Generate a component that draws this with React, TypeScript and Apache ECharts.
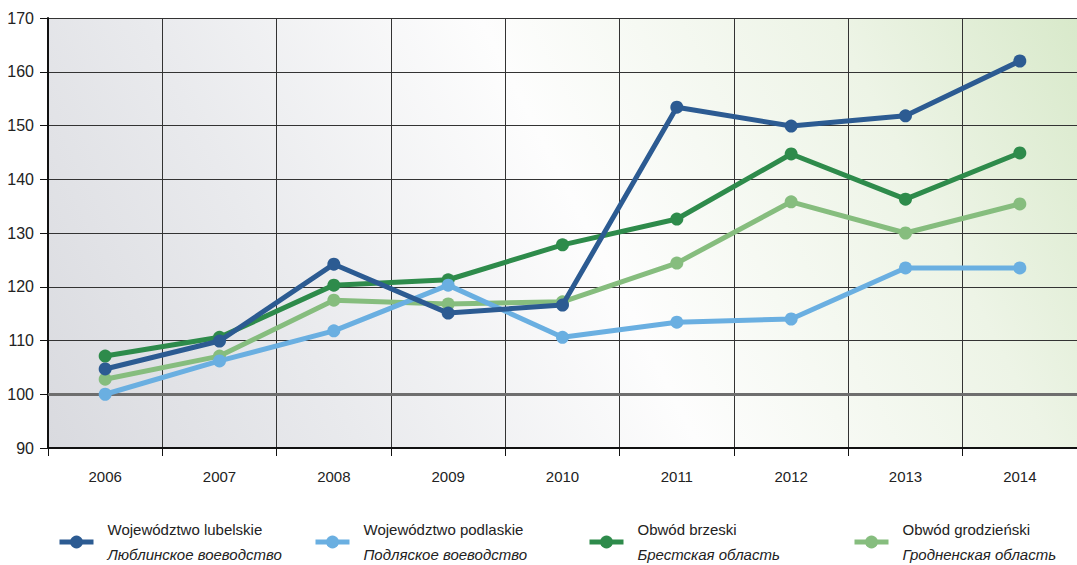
import React, { useEffect, useRef } from "react";
import * as echarts from "echarts";

const years = ["2006", "2007", "2008", "2009", "2010", "2011", "2012", "2013", "2014"];
const lubelskie = [104.7, 109.9, 124.2, 115.1, 116.6, 153.4, 149.9, 151.8, 162.0];
const podlaskie = [100.0, 106.2, 111.8, 120.3, 110.6, 113.4, 114.0, 123.5, 123.5];
const brzeski = [107.1, 110.6, 120.3, 121.3, 127.8, 132.6, 144.7, 136.3, 144.9];
const grodzienski = [102.8, 107.1, 117.5, 116.8, 117.2, 124.4, 135.8, 130.0, 135.4];

const seriesNames = [
  "Województwo lubelskie",
  "Województwo podlaskie",
  "Obwód brzeski",
  "Obwód grodzieński",
];
const seriesSubNames = [
  "Люблинское воеводство",
  "Подляское воеводство",
  "Брестская область",
  "Гродненская область",
];
const seriesData = [lubelskie, podlaskie, brzeski, grodzienski];
const seriesColors = ["#2c5b92", "#6aafe1", "#2e8b4b", "#86bd7e"];
const legendLefts = [52, 308, 582, 847];

const FONT = "'Liberation Sans', Arial, sans-serif";

export default function App() {
  const ref = useRef<HTMLDivElement>(null);
  useEffect(() => {
    if (!ref.current) return;
    const chart = echarts.init(ref.current, undefined, { renderer: "svg" });
    const series: any[] = seriesNames.map((name, i) => ({
      name,
      type: "line",
      data: seriesData[i],
      symbol: "circle",
      symbolSize: 13,
      z: 10 - i,
      lineStyle: { width: 5, color: seriesColors[i] },
      itemStyle: { color: seriesColors[i] },
      ...(i === 0
        ? {
            markLine: {
              silent: true,
              symbol: "none",
              label: { show: false },
              lineStyle: { color: "#6e6e6e", width: 3, type: "solid" },
              data: [{ yAxis: 100 }],
              z: 1,
            },
          }
        : {}),
    }));
    series.reverse();
    const legends = seriesNames.map((name, i) => ({
      data: [name],
      left: legendLefts[i],
      top: 517,
      itemWidth: 34,
      itemHeight: 16,
      lineStyle: { width: 5 },
      formatter: (n: string) => `{a|${n}}\n{b|${seriesSubNames[seriesNames.indexOf(n)]}}`,
      textStyle: {
        padding: [0, 0, 0, 9],
        rich: {
          a: { fontSize: 15, fontFamily: FONT, color: "#222", lineHeight: 25 },
          b: { fontSize: 15, fontFamily: FONT, fontStyle: "italic", color: "#222", lineHeight: 25 },
        },
      },
    }));
    chart.setOption({
      animation: false,
      legend: legends,
      grid: {
        left: 48,
        top: 18,
        width: 1035,
        height: 430,
        show: true,
        borderWidth: 0,
        backgroundColor: new echarts.graphic.LinearGradient(
          48,
          448,
          1042,
          -60,
          [
            { offset: 0, color: "#d9dadf" },
            { offset: 0.25, color: "#e9eaed" },
            { offset: 0.52, color: "#fdfdfd" },
            { offset: 0.8, color: "#edf4e6" },
            { offset: 1, color: "#d8e9ca" },
          ],
          true
        ),
      },
      xAxis: {
        type: "category",
        data: years,
        boundaryGap: true,
        axisLine: { lineStyle: { color: "#111", width: 2 } },
        axisTick: { show: true, length: 8, lineStyle: { color: "#111" } },
        axisLabel: {
          fontSize: 15,
          fontFamily: "'Liberation Sans Narrow', 'Liberation Sans', Arial, sans-serif",
          color: "#222",
          margin: 21,
        },
        splitLine: { show: true, lineStyle: { color: "#333", width: 1 } },
      },
      yAxis: {
        type: "value",
        min: 90,
        max: 170,
        interval: 10,
        axisLine: { show: true, lineStyle: { color: "#111", width: 2 } },
        axisTick: { show: true, length: 8, lineStyle: { color: "#111" } },
        axisLabel: { fontSize: 16, fontFamily: FONT, color: "#222", margin: 14 },
        splitLine: { show: true, lineStyle: { color: "#333", width: 1 } },
      },
      series,
    });
    return () => chart.dispose();
  }, []);
  return <div ref={ref} style={{ width: 1077, height: 565, position: "absolute", left: 0, top: 0 }} />;
}
